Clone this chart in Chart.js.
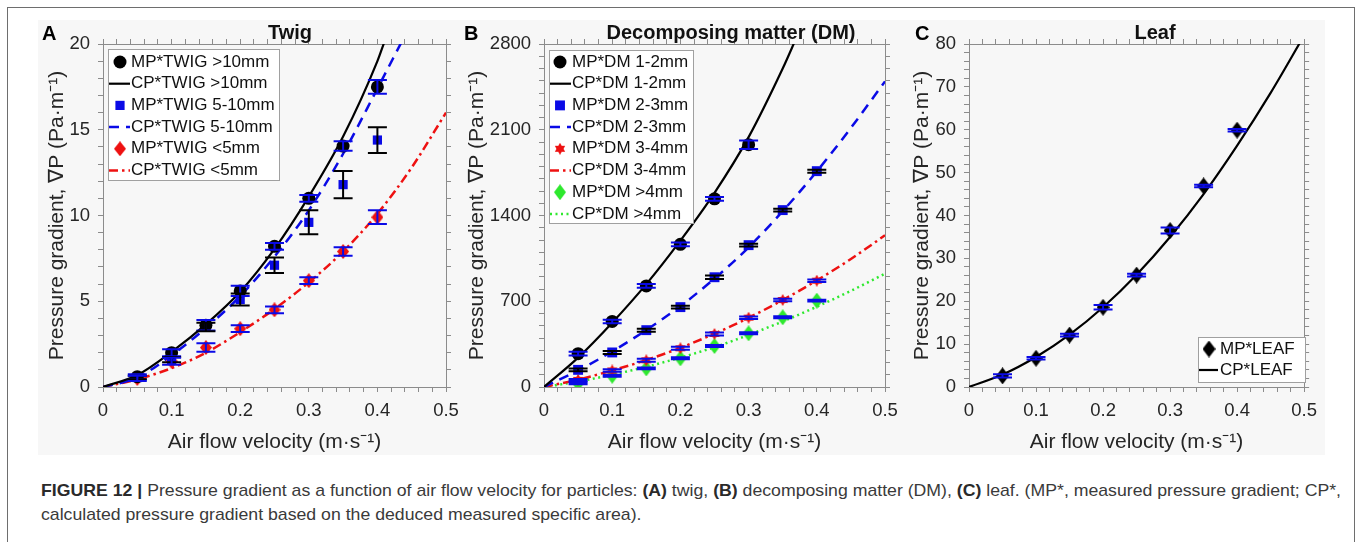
<!DOCTYPE html>
<html>
<head>
<meta charset="utf-8">
<script src="https://cdn.jsdelivr.net/npm/chart.js@4.4.1/dist/chart.umd.min.js"></script>
<style>
  html, body { margin: 0; padding: 0; background: #fff; }
  body { width: 1357px; height: 542px; position: relative; overflow: hidden; font-family: "Liberation Sans", Arial, sans-serif; }
  #frame { position: absolute; left: 7px; top: 7px; width: 1346px; height: 560px; border: 1px solid #6e6e6e; }
  #figure { position: absolute; left: 38px; top: 20px; width: 1287px; height: 435px; background: #f7f7f7; }
  canvas { position: absolute; top: 20px; }
  .letter { position: absolute; top: 23px; font-size: 20px; line-height: 1; font-weight: bold; color: #000; }
  .title { position: absolute; top: 22px; font-size: 20px; line-height: 1; font-weight: bold; color: #111; transform: translateX(-50%); white-space: nowrap; }
  #caption { position: absolute; left: 41px; top: 479px; font-family: "Liberation Sans Narrow", "Liberation Sans", Arial, sans-serif; font-size: 17px; line-height: 24px; color: #3a3a3a; white-space: nowrap; }
  #caption div { transform-origin: 0 0; }
  #caption b { color: #2a2a2a; }
</style>
</head>
<body>
<div id="frame"></div>
<div id="figure"></div>

<canvas id="twig" width="440" height="435" style="left:38px"></canvas>
<canvas id="dm" width="468" height="435" style="left:450px"></canvas>
<canvas id="leaf" width="435" height="435" style="left:890px"></canvas>

<div class="letter" style="left:42px">A</div>
<div class="letter" style="left:464px">B</div>
<div class="letter" style="left:915px">C</div>
<div class="title" style="left:290px">Twig</div>
<div class="title" style="left:731px">Decomposing matter (DM)</div>
<div class="title" style="left:1155px">Leaf</div>

<div id="caption">
  <div id="cap1"><b>FIGURE 12 |</b> Pressure gradient as a function of air flow velocity for particles: <b>(A)</b> twig, <b>(B)</b> decomposing matter (DM), <b>(C)</b> leaf. (MP*, measured pressure gradient; CP*,</div>
  <div id="cap2">calculated pressure gradient based on the deduced measured specific area).</div>
</div>

<script>
// ---- data ----
const velocity = [0.05, 0.1, 0.15, 0.2, 0.25, 0.3, 0.35, 0.4];

// A: twig
const twigBigMP = [0.6, 2.0, 3.6, 5.6, 8.2, 11.0, 14.05, 17.5];
const twigBigErr = [0.15, 0.2, 0.3, 0.3, 0.2, 0.2, 0.28, 0.4];
const twigMidMP = [0.55, 1.6, 3.5, 5.1, 7.1, 9.6, 11.8, 14.4];
const twigMidErr = [0.1, 0.15, 0.25, 0.35, 0.45, 0.7, 0.8, 0.75];
const twigSmallMP = [0.5, 1.5, 2.3, 3.4, 4.5, 6.2, 7.9, 9.9];
const twigSmallErr = [0.15, 0.2, 0.25, 0.2, 0.2, 0.2, 0.25, 0.4];

const twigBigCV = [0, 0.05, 0.1, 0.15, 0.2, 0.25, 0.3, 0.35, 0.4, 0.41];
const twigBigCP = [0, 0.7, 2.05, 3.65, 5.55, 8.05, 11.1, 14.6, 19.0, 20.1];
const twigMidCV = [0, 0.05, 0.1, 0.15, 0.2, 0.25, 0.3, 0.35, 0.4, 0.435];
const twigMidCP = [0, 0.55, 1.85, 3.45, 5.3, 7.6, 10.3, 13.6, 17.4, 20.1];
const twigSmallCV = [0, 0.05, 0.1, 0.15, 0.2, 0.25, 0.3, 0.35, 0.4, 0.45, 0.5];
const twigSmallCP = [0, 0.45, 1.1, 2.0, 3.2, 4.55, 6.1, 7.9, 10.1, 12.8, 16.0];

// B: decomposing matter
const dmV6 = [0.05, 0.1, 0.15, 0.2, 0.25, 0.3];
const dm12MP = [272, 535, 825, 1165, 1536, 1978];
const dm12Err = [15, 15, 15, 15, 15, 35];
const dm23MP = [140, 282, 464, 652, 896, 1158, 1444, 1762];
const dm23Err = [12, 12, 12, 12, 15, 12, 12, 12];
const dm34MP = [58, 135, 218, 316, 433, 566, 710, 868];
const dm34Err = [8, 10, 12, 12, 12, 10, 10, 10];
const dm4MP = [30, 92, 152, 234, 335, 438, 569, 705];
const dm4Err = [8, 8, 8, 8, 8, 8, 8, 8];

const dm12CV = [0, 0.05, 0.1, 0.15, 0.2, 0.25, 0.3, 0.35, 0.37];
const dm12CP = [0, 240, 525, 840, 1195, 1585, 2040, 2600, 2850];
const dmCV = [0, 0.05, 0.1, 0.15, 0.2, 0.25, 0.3, 0.35, 0.4, 0.45, 0.5];
const dm23CP = [0, 135, 290, 465, 660, 885, 1140, 1435, 1760, 2115, 2495];
const dm34CP = [0, 60, 135, 220, 320, 435, 565, 710, 870, 1045, 1238];
const dm4CP = [0, 45, 100, 165, 240, 325, 425, 535, 655, 785, 925];

// C: leaf
const leafMP = [2.6, 6.7, 12.1, 18.6, 26.1, 36.5, 46.9, 59.9];
const leafErr = [0.4, 0.3, 0.3, 0.5, 0.3, 0.7, 0.3, 0.3];
const leafCV = [0, 0.05, 0.1, 0.15, 0.2, 0.25, 0.3, 0.35, 0.4, 0.45, 0.5];
const leafCP = [0, 2.9, 7.0, 12.2, 18.6, 26.2, 35.0, 45.0, 56.3, 68.6, 82.0];

// ---- styling ----
const FONT = '"Liberation Sans", Arial, sans-serif';
const AXIS_GRAY = '#8c8c8c';
const TEXT = '#262626';
const BLUE = '#0a0ae6';
const RED = '#ee1111';
const GREEN = '#2ee82e';

Chart.defaults.font.family = FONT;
Chart.defaults.color = TEXT;

function diamondImg(color, w, h) {
    const c = document.createElement('canvas');
    c.width = w; c.height = h;
    const g = c.getContext('2d');
    g.fillStyle = color;
    g.beginPath();
    g.moveTo(w / 2, 0); g.lineTo(w, h / 2); g.lineTo(w / 2, h); g.lineTo(0, h / 2);
    g.closePath(); g.fill();
    return c;
}

function hexagramImg(color, size) {
    const c = document.createElement('canvas');
    c.width = size; c.height = size;
    const g = c.getContext('2d');
    const r = size / 2, cx = size / 2, cy = size / 2;
    g.fillStyle = color;
    [-Math.PI / 2, Math.PI / 2].forEach(a0 => {
        g.beginPath();
        for (let k = 0; k < 3; k++) {
            const a = a0 + k * 2 * Math.PI / 3;
            const px = cx + r * Math.cos(a), py = cy + r * Math.sin(a);
            k ? g.lineTo(px, py) : g.moveTo(px, py);
        }
        g.closePath(); g.fill();
    });
    return c;
}

function mp(label, xs, ys, errs, st) {
    return {
        label,
        data: xs.map((x, i) => ({ x, y: ys[i] })),
        errors: errs,
        errorColor: st.errColor,
        showLine: false,
        pointStyle: st.pointStyle,
        pointRadius: st.radius || 6,
        pointBackgroundColor: st.color,
        backgroundColor: st.color,
        borderColor: st.color,
        pointBorderWidth: 0,
        order: 1
    };
}

function cp(label, xs, ys, st) {
    return {
        label,
        data: xs.map((x, i) => ({ x, y: ys[i] })),
        showLine: true,
        pointRadius: 0,
        borderColor: st.color,
        borderWidth: st.width || 2.5,
        borderDash: st.dash || [],
        borderCapStyle: 'butt',
        cubicInterpolationMode: 'monotone',
        fill: false,
        order: 2
    };
}

// error bars drawn through the chart's own scales
const errorBars = {
    id: 'errorBars',
    afterDatasetsDraw(chart) {
        const { ctx, chartArea } = chart;
        const xs = chart.scales.x, ys = chart.scales.y;
        ctx.save();
        ctx.beginPath();
        ctx.rect(chartArea.left, chartArea.top - 2, chartArea.width, chartArea.height + 4);
        ctx.clip();
        ctx.lineWidth = 2;
        chart.data.datasets.forEach(ds => {
            if (!ds.errors) return;
            ctx.strokeStyle = ds.errorColor;
            ds.data.forEach((p, i) => {
                const px = xs.getPixelForValue(p.x);
                const top = ys.getPixelForValue(p.y + ds.errors[i]);
                const bot = ys.getPixelForValue(p.y - ds.errors[i]);
                ctx.beginPath();
                ctx.moveTo(px, top); ctx.lineTo(px, bot);
                ctx.moveTo(px - 9.5, top); ctx.lineTo(px + 9.5, top);
                ctx.moveTo(px - 9.5, bot); ctx.lineTo(px + 9.5, bot);
                ctx.stroke();
            });
        });
        ctx.restore();
    }
};

// boxed legend inside the plot area
const boxLegend = {
    id: 'boxLegend',
    afterDraw(chart, args, o) {
        const { ctx, chartArea } = chart;
        const x = Math.round(chartArea.left + o.x), y = Math.round(chartArea.top + o.y);
        ctx.save();
        ctx.fillStyle = '#ffffff';
        ctx.fillRect(x, y, o.w, o.h);
        ctx.strokeStyle = '#a0a0a0';
        ctx.lineWidth = 1;
        ctx.strokeRect(x + 0.5, y + 0.5, o.w, o.h);
        ctx.font = '17px ' + FONT;
        ctx.textBaseline = 'middle';
        chart.data.datasets.forEach((ds, i) => {
            const cy = y + o.first + i * o.gap;
            if (ds.showLine) {
                ctx.strokeStyle = ds.borderColor;
                ctx.lineWidth = ds.borderWidth;
                ctx.setLineDash(ds.borderDash);
                ctx.beginPath();
                ctx.moveTo(x + 1, cy); ctx.lineTo(x + o.lineEnd, cy);
                ctx.stroke();
                ctx.setLineDash([]);
            } else {
                ctx.fillStyle = ds.backgroundColor;
                Chart.helpers.drawPoint(ctx, { pointStyle: ds.pointStyle, radius: ds.pointRadius, rotation: 0, borderWidth: 0 }, x + o.marker, cy);
            }
            ctx.fillStyle = '#111';
            ctx.fillText(ds.label, x + o.text, cy);
        });
        ctx.restore();
    }
};

function tickLabel(every, fmt) {
    return (value, index) => (index % every === 0 ? fmt(value) : '');
}

function makeScales(c) {
    const grid = { drawOnChartArea: false, drawTicks: true, tickLength: 5, color: AXIS_GRAY, tickColor: AXIS_GRAY, lineWidth: 1 };
    const border = { display: true, color: AXIS_GRAY, width: 1 };
    const tickFont = { family: FONT, size: 18.5 };
    const xTicks = { stepSize: 0.02, autoSkip: false, maxRotation: 0, minRotation: 0, padding: 8, color: TEXT, font: tickFont };
    const yTicks = { stepSize: c.yStep, autoSkip: false, padding: 8, color: TEXT, font: tickFont };
    return {
        x: {
            type: 'linear', position: 'bottom', min: 0, max: 0.5, grid, border,
            ticks: { ...xTicks, callback: tickLabel(5, v => (v === 0 ? '0' : v.toFixed(1))) },
            title: { display: true, text: 'Air flow velocity (m·s⁻¹)', color: TEXT, font: { family: FONT, size: 21 }, padding: { top: 0, bottom: 0.5 } },
            afterFit: s => { s.height = 68; }
        },
        x2: {
            type: 'linear', position: 'top', min: 0, max: 0.5, grid, border,
            ticks: { ...xTicks, display: false },
            afterFit: s => { s.height = 24; }
        },
        y: {
            type: 'linear', position: 'left', min: 0, max: c.yMax, grid, border,
            ticks: { ...yTicks, callback: tickLabel(c.yEvery, v => String(Math.round(v))) },
            title: { display: true, text: 'Pressure gradient, ∇P (Pa·m⁻¹)', color: TEXT, font: { family: FONT, size: 21 }, padding: { top: c.yTitlePad, bottom: 0 } },
            afterFit: s => { s.width = c.yWidth; }
        },
        y2: {
            type: 'linear', position: 'right', min: 0, max: c.yMax, grid, border,
            ticks: { ...yTicks, display: false },
            afterFit: s => { s.width = c.y2Width; }
        }
    };
}

function makeChart(id, datasets, scaleCfg, legendCfg) {
    return new Chart(document.getElementById(id), {
        type: 'scatter',
        data: { datasets },
        options: {
            responsive: false,
            animation: false,
            events: [],
            layout: { padding: 0, autoPadding: false },
            scales: makeScales(scaleCfg),
            plugins: {
                legend: { display: false },
                tooltip: { enabled: false },
                boxLegend: legendCfg
            }
        },
        plugins: [errorBars, boxLegend]
    });
}

makeChart('twig', [
    mp('MP*TWIG >10mm', velocity, twigBigMP, twigBigErr, { pointStyle: 'circle', radius: 6.5, color: '#000', errColor: BLUE }),
    cp('CP*TWIG >10mm', twigBigCV, twigBigCP, { color: '#000', width: 2.2 }),
    mp('MP*TWIG 5-10mm', velocity, twigMidMP, twigMidErr, { pointStyle: 'rect', radius: 6.5, color: BLUE, errColor: '#000' }),
    cp('CP*TWIG 5-10mm', twigMidCV, twigMidCP, { color: BLUE, dash: [10, 7] }),
    mp('MP*TWIG <5mm', velocity, twigSmallMP, twigSmallErr, { pointStyle: diamondImg(RED, 12, 15), color: RED, errColor: BLUE }),
    cp('CP*TWIG <5mm', twigSmallCV, twigSmallCP, { color: RED, dash: [9, 4, 2.5, 4] })
], { yMax: 20, yStep: 1, yEvery: 5, yWidth: 65, y2Width: 32, yTitlePad: 6.4 },
   { x: 5, y: 5, w: 171, h: 131, first: 13, gap: 21.7, lineEnd: 22, marker: 12, text: 23 });

makeChart('dm', [
    mp('MP*DM 1-2mm', dmV6, dm12MP, dm12Err, { pointStyle: 'circle', radius: 6.5, color: '#000', errColor: BLUE }),
    cp('CP*DM 1-2mm', dm12CV, dm12CP, { color: '#000', width: 2.2 }),
    mp('MP*DM 2-3mm', velocity, dm23MP, dm23Err, { pointStyle: 'rect', radius: 7, color: BLUE, errColor: '#000' }),
    cp('CP*DM 2-3mm', dmCV, dm23CP, { color: BLUE, dash: [10, 7] }),
    mp('MP*DM 3-4mm', velocity, dm34MP, dm34Err, { pointStyle: hexagramImg(RED, 12), color: RED, errColor: BLUE }),
    cp('CP*DM 3-4mm', dmCV, dm34CP, { color: RED, dash: [9, 4, 2.5, 4] }),
    mp('MP*DM >4mm', velocity, dm4MP, dm4Err, { pointStyle: diamondImg(GREEN, 12, 16), color: GREEN, errColor: BLUE }),
    cp('CP*DM >4mm', dmCV, dm4CP, { color: GREEN, dash: [2, 3.5] })
], { yMax: 2800, yStep: 100, yEvery: 7, yWidth: 94, y2Width: 33, yTitlePad: 14.4 },
   { x: 5, y: 6, w: 144, h: 173, first: 12, gap: 21.7, lineEnd: 22, marker: 11, text: 23 });

makeChart('leaf', [
    mp('MP*LEAF', velocity, leafMP, leafErr, { pointStyle: diamondImg('#000', 13, 17), color: '#000', errColor: BLUE }),
    cp('CP*LEAF', leafCV, leafCP, { color: '#000', width: 2.2 })
], { yMax: 80, yStep: 2, yEvery: 5, yWidth: 79, y2Width: 15, yTitlePad: 19.4 },
   { x: 229, y: 293, w: 107, h: 45, first: 12, gap: 21, lineEnd: 20, marker: 11, text: 22 });

// fit caption lines to the reference width
['cap1', 'cap2'].forEach(id => {
    const el = document.getElementById(id);
    el.style.display = 'inline-block';
});
const w1 = document.getElementById('cap1').getBoundingClientRect().width;
const k = 1300 / w1;
['cap1', 'cap2'].forEach(id => {
    const el = document.getElementById(id);
    el.style.display = 'block';
    el.style.transform = 'scaleX(' + k + ')';
});
</script>
</body>
</html>
